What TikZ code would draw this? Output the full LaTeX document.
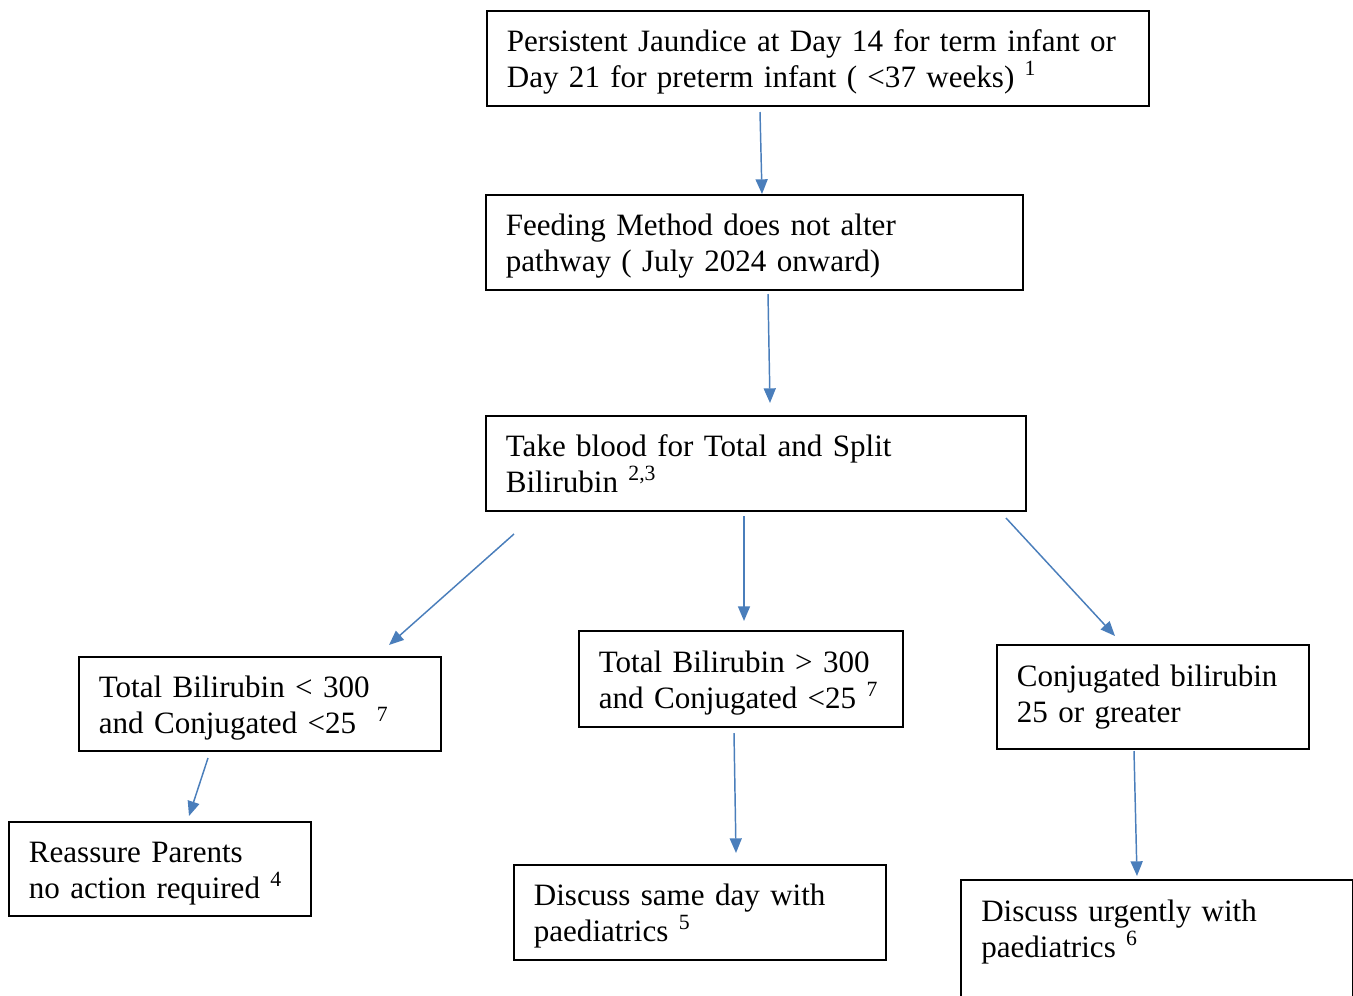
\documentclass[tikz,border=0pt]{standalone}
\usepackage{fontspec}
\setmainfont{Liberation Serif}
\usetikzlibrary{arrows.meta}
\definecolor{arrblue}{HTML}{4A7EBB}
\newcommand\tstrut{\rule{0pt}{22pt}}
\begin{document}
\begin{tikzpicture}[x=0.75pt,y=-0.75pt,
  boxline/.style={draw=black,line width=1.3pt},
  box/.style={boxline,anchor=north west,inner xsep=15pt,inner ysep=0pt,align=left,
    font=\fontsize{23.3}{27}\selectfont},
  plain/.style={anchor=north west,inner xsep=15pt,inner ysep=0pt,align=left,
    font=\fontsize{23.3}{27}\selectfont},
  arr/.style={draw=arrblue,line width=1.1pt,-{Triangle[length=11pt,width=9pt]}}]
\clip (0,0) rectangle (1353,996);

\node[box,text width=466.5pt,minimum height=71.25pt] (n1) at (486,10)
  {\tstrut Persistent Jaundice at Day 14 for term infant or\\Day 21 for preterm infant ( <37 weeks) \textsuperscript{1}};
\node[box,text width=372.75pt,minimum height=71.25pt] (n2) at (485,194)
  {\tstrut Feeding Method does not alter\\pathway ( July 2024 onward)};
\node[box,text width=375pt,minimum height=71.25pt] (n3) at (485,415)
  {Take blood for Total and Split\\Bilirubin \textsuperscript{2,3}};
\node[box,text width=241.5pt,minimum height=70.5pt] (n4) at (78,656)
  {\tstrut Total Bilirubin < 300\\and Conjugated <25 \ \textsuperscript{7}};
\node[box,text width=213pt,minimum height=72pt] (n5) at (578,630)
  {\tstrut Total Bilirubin > 300\\and Conjugated <25 \textsuperscript{7}};
\node[box,text width=204pt,minimum height=78pt] (n6) at (996,644)
  {Conjugated bilirubin\\25 or greater};
\node[box,text width=196.5pt,minimum height=70.5pt] (n7) at (8,821)
  {\tstrut Reassure Parents\\no action required \textsuperscript{4}};
\node[box,text width=249pt,minimum height=71.25pt] (n8) at (513,864)
  {\tstrut Discuss same day with\\paediatrics \textsuperscript{5}};
\node[plain,text width=263.25pt,minimum height=77pt] (n9) at (961,880)
  {Discuss urgently with\\paediatrics \textsuperscript{6}};
\draw[boxline] (n9.north west) rectangle ([yshift=-60pt]n9.south east);

\coordinate (a1s) at (760,112); \coordinate (a1e) at (762,194);
\coordinate (a2s) at (768,294); \coordinate (a2e) at (770,403);
\coordinate (a3s) at (514,534); \coordinate (a3e) at (389,645);
\coordinate (a4s) at (744,516); \coordinate (a4e) at (744,621);
\coordinate (a5s) at (1006,518); \coordinate (a5e) at (1115,636);
\coordinate (a6s) at (208,758); \coordinate (a6e) at (189,816);
\coordinate (a7s) at (734,733); \coordinate (a7e) at (736,853);
\coordinate (a8s) at (1134,751); \coordinate (a8e) at (1137,876);
\draw[arr] (a1s) -- (a1e);
\draw[arr] (a2s) -- (a2e);
\draw[arr] (a3s) -- (a3e);
\draw[arr] (a4s) -- (a4e);
\draw[arr] (a5s) -- (a5e);
\draw[arr] (a6s) -- (a6e);
\draw[arr] (a7s) -- (a7e);
\draw[arr] (a8s) -- (a8e);
\end{tikzpicture}
\end{document}
